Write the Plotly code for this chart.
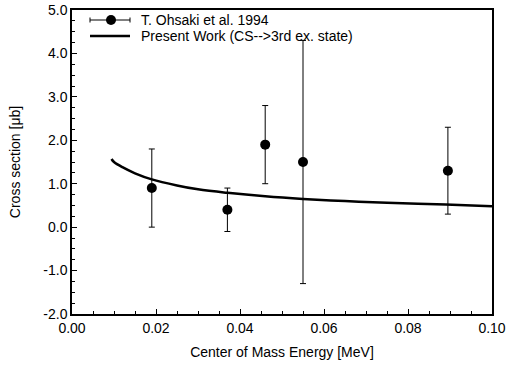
import plotly.graph_objects as go

# Experimental data (T. Ohsaki et al. 1994)
exp_energy = [0.019, 0.037, 0.046, 0.055, 0.0895]
exp_sigma = [0.9, 0.4, 1.9, 1.5, 1.3]
exp_err = [0.9, 0.5, 0.9, 2.8, 1.0]

# Present work curve (CS-->3rd ex. state)
calc_energy = [0.0094, 0.010, 0.012, 0.015, 0.019, 0.025, 0.030, 0.037,
               0.046, 0.055, 0.065, 0.075, 0.089, 0.100]
calc_sigma = [1.57, 1.50, 1.38, 1.24, 1.10, 0.96, 0.87, 0.79,
              0.71, 0.65, 0.60, 0.56, 0.52, 0.48]

x_ticks = [0.00, 0.02, 0.04, 0.06, 0.08, 0.10]
x_ticktext = ["0.00", "0.02", "0.04", "0.06", "0.08", "0.10"]
y_ticks = [-2, -1, 0, 1, 2, 3, 4, 5]
y_ticktext = ["-2.0", "-1.0", "0.0", "1.0", "2.0", "3.0", "4.0", "5.0"]

legend_labels = ["T. Ohsaki et al. 1994", "Present Work (CS-->3rd ex. state)"]

FONT = "Liberation Sans, Arial, Helvetica, sans-serif"

fig = go.Figure()
fig.add_trace(go.Scatter(
    x=calc_energy, y=calc_sigma, mode="lines", line_shape="spline",
    line=dict(color="black", width=2.5), showlegend=False))
fig.add_trace(go.Scatter(
    x=exp_energy, y=exp_sigma, mode="markers",
    marker=dict(color="black", size=10),
    error_y=dict(type="data", array=exp_err, visible=True,
                 color="black", thickness=1, width=3),
    showlegend=False))

# plot area geometry (px)
L, R, T, B = 72, 492, 10, 314
W, H = 510, 367

def px(xp):
    return (xp - L) / (R - L)

def py(yp):
    return (B - yp) / (B - T)

shapes = []
annotations = []
rows = [20, 36]
# row 1: errorbar + marker symbol
y1 = py(rows[0])
shapes.append(dict(type="line", xref="paper", yref="paper",
                   x0=px(90), x1=px(130), y0=y1, y1=y1,
                   line=dict(color="black", width=1)))
for xc in (90, 130):
    shapes.append(dict(type="line", xref="paper", yref="paper",
                       x0=px(xc), x1=px(xc), y0=py(rows[0] - 2.5), y1=py(rows[0] + 2.5),
                       line=dict(color="black", width=1)))
shapes.append(dict(type="circle", xref="paper", yref="paper",
                   xsizemode="pixel", ysizemode="pixel",
                   xanchor=px(111), yanchor=y1, x0=-5, x1=5, y0=-5, y1=5,
                   fillcolor="black", line=dict(color="black", width=0)))
# row 2: line symbol
y2 = py(rows[1])
shapes.append(dict(type="line", xref="paper", yref="paper",
                   x0=px(90), x1=px(130), y0=y2, y1=y2,
                   line=dict(color="black", width=2.5)))
for yr, lab in zip(rows, legend_labels):
    annotations.append(dict(xref="paper", yref="paper", x=px(139), y=py(yr),
                            xanchor="left", yanchor="middle", showarrow=False,
                            text=lab, font=dict(size=14, color="black", family=FONT)))

fig.update_layout(
    width=W, height=H,
    margin=dict(l=L, r=W - R, t=T, b=H - B, autoexpand=False),
    paper_bgcolor="white", plot_bgcolor="white",
    font=dict(family=FONT, size=14, color="black"),
    shapes=shapes, annotations=annotations,
    showlegend=False,
    xaxis=dict(range=[0, 0.10], tickmode="array", tickvals=x_ticks, ticktext=x_ticktext,
               ticks="inside", ticklen=5, tickwidth=1, tickcolor="black",
               minor=dict(tickmode="linear", tick0=0, dtick=0.005, ticks="inside",
                          ticklen=3, tickwidth=1, tickcolor="black"),
               showline=True, linecolor="black", linewidth=1.5, mirror=True,
               showgrid=False, zeroline=False, automargin=False,
               title=dict(text="Center of Mass Energy [MeV]", standoff=13,
                          font=dict(size=14))),
    yaxis=dict(range=[-2, 5], tickmode="array", tickvals=y_ticks, ticktext=y_ticktext,
               ticks="inside", ticklen=5, tickwidth=1, tickcolor="black",
               minor=dict(tickmode="linear", tick0=0, dtick=0.25, ticks="inside",
                          ticklen=3, tickwidth=1, tickcolor="black"),
               showline=True, linecolor="black", linewidth=1.5, mirror=True,
               showgrid=False, zeroline=False, automargin=False,
               title=dict(text="Cross section [μb]", standoff=19,
                          font=dict(size=14))),
)

fig.write_html("out.html", config={"displayModeBar": False},
               post_script="document.body.style.margin='0px';")
